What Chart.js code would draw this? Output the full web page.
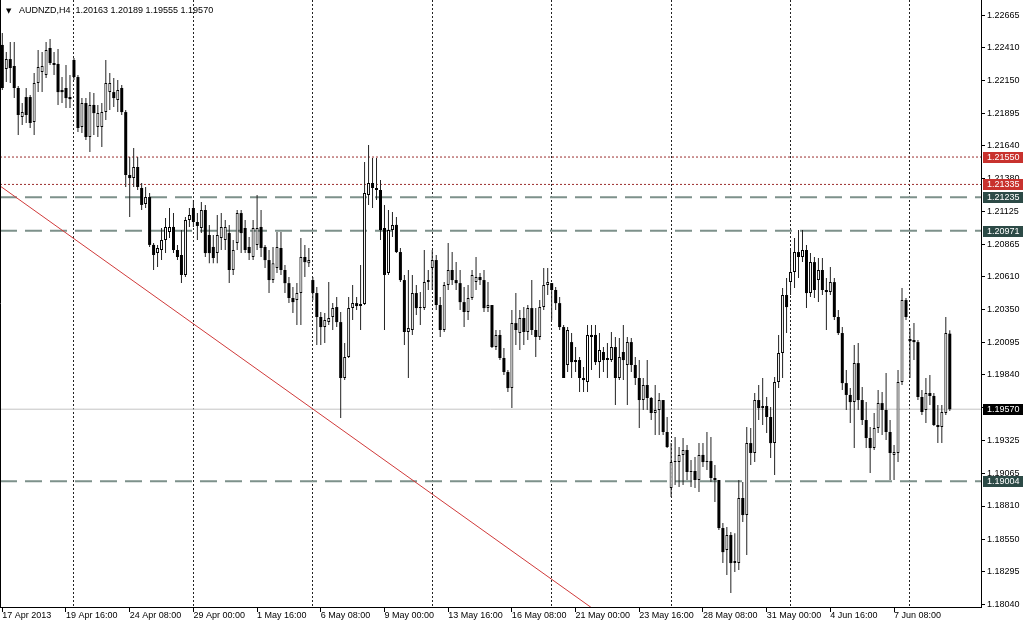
<!DOCTYPE html>
<html>
<head>
<meta charset="utf-8">
<title>AUDNZD,H4</title>
<script src="https://cdn.jsdelivr.net/npm/chart.js@4.4.1/dist/chart.umd.min.js"></script>
<style>
html,body{margin:0;padding:0;background:#ffffff;overflow:hidden;}
#wrap{position:relative;width:1024px;height:624px;background:#fff;}
canvas{display:block;}
</style>
</head>
<body>
<div id="wrap"><canvas id="chart" width="1024" height="624"></canvas></div>
<script>
const symbolName = 'AUDNZD,H4';

const opens = [
1.22430,1.22241,1.22319,1.22265,1.22092,1.21864,1.22021,1.22021,1.21825,1.22131,
1.22217,1.22194,1.22406,1.22288,1.22281,1.22076,1.22092,1.22021,1.22312,1.22178,
1.21786,1.21974,1.21707,1.21959,1.21786,1.21786,1.21903,1.22060,1.22060,1.21998,
1.22092,1.21903,1.21409,1.21385,1.21472,1.21307,1.21182,1.21236,1.20860,1.20796,
1.20820,1.20899,1.20961,1.21001,1.20820,1.20781,1.20624,1.21056,1.21150,1.21040,
1.20993,1.21134,1.20938,1.20844,1.20796,1.20914,1.20899,1.20953,1.20663,1.20875,
1.21110,1.20993,1.20844,1.20765,1.20860,1.21001,1.20844,1.20741,1.20584,1.20678,
1.20836,1.20663,1.20560,1.20443,1.20427,1.20482,1.20765,1.20717,1.20584,1.20482,
1.20294,1.20215,1.20254,1.20294,1.20372,1.20254,1.19815,1.19980,1.20364,1.20403,
1.20380,1.20396,1.21252,1.21346,1.21307,1.21291,1.20993,1.20639,1.20977,1.21017,
1.20804,1.20584,1.20176,1.20192,1.20482,1.20364,1.20364,1.20568,1.20678,1.20741,
1.20388,1.20192,1.20545,1.20663,1.20584,1.20560,1.20411,1.20333,1.20443,1.20568,
1.20608,1.20584,1.20364,1.20388,1.20058,1.20153,1.19972,1.19862,1.19736,1.20246,
1.20168,1.20286,1.20176,1.20364,1.20192,1.20137,1.20372,1.20545,1.20560,1.20506,
1.20403,1.20215,1.19917,1.20097,1.19940,1.19956,1.19815,1.19783,1.20153,1.20153,
1.19940,1.20019,1.19956,1.19956,1.20058,1.19815,1.20019,1.19917,1.20097,1.19917,
1.19815,1.19642,1.19760,1.19658,1.19540,1.19564,1.19642,1.19391,1.18951,1.19155,
1.19155,1.19211,1.19250,1.19077,1.19085,1.19014,1.19211,1.19155,1.19163,1.19030,
1.19014,1.18637,1.18464,1.18582,1.18362,1.18362,1.18873,1.18739,1.19304,1.19226,
1.19642,1.19579,1.19595,1.19509,1.19304,1.19783,1.20011,1.20467,1.20568,1.20647,
1.20804,1.20765,1.20820,1.20482,1.20725,1.20584,1.20663,1.20506,1.20490,1.20568,
1.20294,1.20168,1.19775,1.19682,1.19626,1.19932,1.19642,1.19485,1.19344,1.19265,
1.19422,1.19618,1.19564,1.19391,1.19211,1.19226,1.19783,1.20427,1.20121,1.20113,
1.20097,1.19666,1.19564,1.19697,1.19674,1.19446,1.19430,1.19540,1.20163];

const highs = [
1.22523,1.22374,1.22453,1.22453,1.22108,1.21974,1.22092,1.22037,1.22209,1.22390,
1.22374,1.22453,1.22476,1.22374,1.22398,1.22178,1.22273,1.22194,1.22327,1.22194,
1.22013,1.22013,1.22060,1.22052,1.21959,1.21974,1.22312,1.22209,1.22170,1.22155,
1.22116,1.21919,1.21550,1.21621,1.21550,1.21346,1.21315,1.21267,1.20875,1.20860,
1.20993,1.21071,1.21150,1.21110,1.20860,1.20977,1.21079,1.21150,1.21213,1.21110,
1.21197,1.21174,1.21017,1.20938,1.21095,1.21110,1.21056,1.21017,1.20899,1.21134,
1.21134,1.21056,1.20922,1.21056,1.21252,1.21134,1.20860,1.20820,1.20844,1.20961,
1.20961,1.20702,1.20608,1.20529,1.20560,1.20914,1.20860,1.20836,1.20608,1.20529,
1.20333,1.20325,1.20568,1.20403,1.20451,1.20333,1.20089,1.20451,1.20545,1.20451,
1.20702,1.21511,1.21645,1.21542,1.21542,1.21370,1.21174,1.21134,1.21118,1.21079,
1.20836,1.20624,1.20663,1.20624,1.20545,1.20490,1.20820,1.20663,1.20820,1.20781,
1.20451,1.20568,1.20875,1.20804,1.20725,1.20663,1.20529,1.20545,1.20663,1.20765,
1.20639,1.20663,1.20568,1.20388,1.20192,1.20192,1.20050,1.19878,1.20349,1.20482,
1.20349,1.20372,1.20388,1.20584,1.20364,1.20427,1.20678,1.20678,1.20560,1.20529,
1.20451,1.20231,1.20215,1.20168,1.20058,1.19980,1.19901,1.20231,1.20231,1.20231,
1.20168,1.20058,1.20089,1.20176,1.20137,1.20129,1.20231,1.20137,1.20129,1.19980,
1.19956,1.19815,1.19956,1.19666,1.19760,1.19697,1.19642,1.19509,1.19304,1.19352,
1.19273,1.19344,1.19289,1.19171,1.19195,1.19304,1.19304,1.19391,1.19352,1.19132,
1.19014,1.18676,1.18645,1.18605,1.18597,1.19014,1.18998,1.19430,1.19422,1.19697,
1.19760,1.19815,1.19666,1.19587,1.19823,1.20153,1.20521,1.20600,1.20820,1.20914,
1.20977,1.20977,1.20860,1.20796,1.20765,1.20757,1.20757,1.20600,1.20686,1.20600,
1.20349,1.20215,1.19878,1.19736,1.20074,1.20089,1.19744,1.19626,1.19430,1.19540,
1.19721,1.19705,1.19854,1.19485,1.19289,1.19878,1.20521,1.20443,1.20207,1.20246,
1.20113,1.19721,1.19815,1.19839,1.19697,1.19603,1.19603,1.20294,1.20189];

const lows = [
1.22076,1.22139,1.22131,1.22013,1.21723,1.21802,1.21817,1.21778,1.21723,1.22060,
1.22060,1.22170,1.22273,1.22194,1.21959,1.21974,1.21935,1.21935,1.22155,1.21746,
1.21738,1.21684,1.21589,1.21723,1.21707,1.21629,1.21841,1.21919,1.21943,1.21903,
1.21880,1.21315,1.21079,1.21315,1.21291,1.21134,1.21150,1.20844,1.20663,1.20686,
1.20741,1.20796,1.20914,1.20796,1.20741,1.20560,1.20608,1.21001,1.21001,1.20899,
1.20953,1.20765,1.20717,1.20717,1.20717,1.20820,1.20820,1.20560,1.20624,1.20820,
1.20796,1.20796,1.20741,1.20741,1.20820,1.20765,1.20678,1.20482,1.20560,1.20639,
1.20624,1.20482,1.20403,1.20325,1.20231,1.20231,1.20608,1.20686,1.20427,1.20074,
1.20074,1.20089,1.20231,1.20192,1.20215,1.19501,1.19799,1.19972,1.20270,1.20349,
1.20192,1.20388,1.21174,1.21150,1.21213,1.20899,1.20192,1.20624,1.20922,1.20796,
1.20568,1.20074,1.19815,1.20153,1.20310,1.20231,1.20349,1.20506,1.20506,1.20349,
1.20137,1.20176,1.20506,1.20545,1.20506,1.20349,1.20215,1.20270,1.20427,1.20506,
1.20545,1.20333,1.20333,1.20050,1.20035,1.19956,1.19839,1.19705,1.19579,1.20074,
1.20035,1.20074,1.20113,1.20153,1.19980,1.20113,1.20349,1.20467,1.20270,1.20349,
1.20192,1.19862,1.19862,1.19815,1.19862,1.19705,1.19705,1.19705,1.19878,1.19917,
1.19815,1.19862,1.19815,1.19940,1.19603,1.19799,1.19799,1.19603,1.19862,1.19760,
1.19422,1.19564,1.19564,1.19485,1.19368,1.19368,1.19368,1.19265,1.18881,1.18975,
1.18959,1.18975,1.19014,1.18959,1.18951,1.18920,1.19116,1.19093,1.18998,1.18841,
1.18621,1.18362,1.18268,1.18126,1.18291,1.18307,1.18684,1.18425,1.19132,1.19155,
1.19485,1.19446,1.19383,1.19187,1.19054,1.19736,1.19815,1.20168,1.20467,1.20521,
1.20600,1.20725,1.20364,1.20451,1.20443,1.20411,1.20467,1.20192,1.20467,1.20270,
1.20153,1.19721,1.19564,1.19461,1.19265,1.19564,1.19446,1.19265,1.19069,1.19250,
1.19383,1.19368,1.19328,1.19014,1.19014,1.19155,1.19760,1.20270,1.19815,1.19956,
1.19642,1.19525,1.19461,1.19603,1.19438,1.19304,1.19304,1.19525,1.19555];

const closes = [
1.22092,1.22319,1.22249,1.22092,1.21880,1.21903,1.21880,1.21817,1.22131,1.22257,
1.22265,1.22390,1.22288,1.22273,1.22060,1.22060,1.22013,1.22005,1.22178,1.21778,
1.21974,1.21707,1.21959,1.21895,1.21895,1.21903,1.22131,1.22131,1.22013,1.22076,
1.21903,1.21409,1.21385,1.21472,1.21315,1.21174,1.21236,1.20860,1.20781,1.20836,
1.20899,1.21001,1.21001,1.20820,1.20765,1.20624,1.21056,1.21095,1.21040,1.21009,
1.21134,1.20796,1.20796,1.20757,1.20938,1.21001,1.21001,1.20663,1.20820,1.21110,
1.20953,1.20820,1.20796,1.20993,1.20993,1.20836,1.20741,1.20584,1.20717,1.20844,
1.20663,1.20560,1.20443,1.20411,1.20482,1.20765,1.20725,1.20741,1.20482,1.20294,
1.20215,1.20270,1.20286,1.20364,1.20254,1.19815,1.19980,1.20364,1.20403,1.20380,
1.20396,1.21267,1.21346,1.21307,1.21291,1.20977,1.20624,1.20977,1.21017,1.20804,
1.20584,1.20176,1.20207,1.20482,1.20364,1.20372,1.20568,1.20584,1.20741,1.20388,
1.20192,1.20545,1.20663,1.20584,1.20560,1.20411,1.20333,1.20443,1.20624,1.20608,
1.20584,1.20364,1.20388,1.20058,1.20153,1.19972,1.19862,1.19736,1.20246,1.20192,
1.20286,1.20176,1.20364,1.20192,1.20137,1.20372,1.20545,1.20568,1.20506,1.20403,
1.20215,1.19815,1.20192,1.19940,1.19956,1.19815,1.19799,1.20153,1.20137,1.19940,
1.20035,1.19956,1.19972,1.20058,1.19815,1.19980,1.19956,1.20097,1.19917,1.19815,
1.19642,1.19760,1.19658,1.19540,1.19564,1.19642,1.19391,1.19273,1.19155,1.19163,
1.19211,1.19250,1.19077,1.19085,1.19014,1.19211,1.19155,1.19163,1.19030,1.19014,
1.18637,1.18448,1.18582,1.18362,1.18378,1.18873,1.18739,1.19304,1.19226,1.19642,
1.19579,1.19595,1.19509,1.19304,1.19783,1.20011,1.20467,1.20372,1.20647,1.20804,
1.20765,1.20820,1.20482,1.20725,1.20506,1.20663,1.20506,1.20490,1.20568,1.20294,
1.20168,1.19775,1.19682,1.19626,1.19932,1.19642,1.19485,1.19344,1.19265,1.19422,
1.19618,1.19564,1.19391,1.19226,1.19234,1.19783,1.20427,1.20294,1.20105,1.20097,
1.19666,1.19548,1.19697,1.19674,1.19446,1.19430,1.19548,1.20168,1.19570];

const timeLabels = ['17 Apr 2013','19 Apr 16:00','24 Apr 08:00','29 Apr 00:00','1 May 16:00',
  '6 May 08:00','9 May 00:00','13 May 16:00','16 May 08:00','21 May 00:00','23 May 16:00',
  '28 May 08:00','31 May 00:00','4 Jun 16:00','7 Jun 08:00'];
const timeLabelBars = [0,16,32,48,64,80,96,112,128,144,160,176,192,208,224];
const weekStartBars = [18,48,78,108,138,168,198,228];

const priceTicks = [1.22665,1.22410,1.22150,1.21895,1.21640,1.21380,1.21125,1.20865,1.20610,
  1.20350,1.20095,1.19840,1.19580,1.19325,1.19065,1.18810,1.18550,1.18295,1.18040];

const resistanceLevels = [1.21550, 1.21335];
const supportLevels = [1.21235, 1.20971, 1.19004];
const trendlinePoints = [{x: -0.578, y: 1.21323}, {x: 160, y: 1.17744}];

const xView = [-0.578, 245.84];
const yView = [1.18017, 1.22783];

const FONT = '"Liberation Sans", Arial, sans-serif';

const bullish = closes.map((c, i) => c >= opens[i]);
const wickData = lows.map((l, i) => ({x: i, y: [l, highs[i]]}));
const bodyData = opens.map((o, i) => ({x: i, y: [Math.min(o, closes[i]), Math.max(o, closes[i])]}));
const hLine = v => [{x: xView[0], y: v}, {x: xView[1], y: v}];
const lastClose = closes[closes.length - 1];

const datasets = [];
resistanceLevels.forEach(v => datasets.push({type: 'line', data: hLine(v), borderColor: '#9b2d2d',
  borderWidth: 1, borderDash: [2, 2], pointRadius: 0, order: 5}));
supportLevels.forEach(v => datasets.push({type: 'line', data: hLine(v), borderColor: '#7d918b',
  borderWidth: 2, borderDash: [17, 8], pointRadius: 0, order: 5}));
datasets.push({type: 'line', data: hLine(lastClose), borderColor: '#c4c4c4', borderWidth: 1, pointRadius: 0, order: 6});
datasets.push({type: 'line', data: trendlinePoints, borderColor: '#d03a3a', borderWidth: 1, pointRadius: 0, order: 4});
datasets.push({type: 'bar', data: wickData, backgroundColor: '#222222', borderWidth: 0, grouped: false,
  maxBarThickness: 1, categoryPercentage: 1, barPercentage: 1, inflateAmount: 0, order: 2});
datasets.push({type: 'bar', data: bodyData, backgroundColor: bullish.map(b => b ? '#ffffff' : '#000000'),
  borderColor: '#000000', borderWidth: bullish.map(b => b ? 1 : 0), borderSkipped: false, grouped: false,
  maxBarThickness: 3, minBarLength: 1, categoryPercentage: 1, barPercentage: 1, inflateAmount: 0, order: 1});

const overlayPlugin = {
  id: 'overlay',
  afterDraw(chart) {
    const {ctx, chartArea: a, scales} = chart;
    const ys = scales.y;
    ctx.save();
    ctx.setLineDash([]);
    ctx.strokeStyle = '#000';
    ctx.lineWidth = 1;
    ctx.beginPath();
    ctx.moveTo(a.left + 0.5, a.top);
    ctx.lineTo(a.left + 0.5, a.bottom);
    ctx.stroke();

    ctx.font = '9px ' + FONT;
    ctx.textAlign = 'left';
    ctx.textBaseline = 'middle';
    const tags = [];
    resistanceLevels.forEach(v => tags.push([v, '#c8322e']));
    supportLevels.forEach(v => tags.push([v, '#2c4a46']));
    tags.push([lastClose, '#000000']);
    tags.forEach(([v, col]) => {
      const py = Math.round(ys.getPixelForValue(v));
      ctx.fillStyle = col;
      ctx.fillRect(a.right + 2, py - 5, chart.width - a.right - 3, 11);
      ctx.fillStyle = '#ffffff';
      ctx.fillText(v.toFixed(5), a.right + 6, py + 0.5);
    });

    const n = closes.length - 1;
    ctx.fillStyle = '#000';
    ctx.font = '7px "DejaVu Sans", sans-serif';
    ctx.fillText('\u25BC', 6, 11);
    ctx.font = '9px ' + FONT;
    ctx.fillText(symbolName + '  ' + [opens[n], highs[n], lows[n], closes[n]].map(v => v.toFixed(5)).join(' '), 19, 11);
    ctx.restore();
  }
};

new Chart(document.getElementById('chart'), {
  type: 'bar',
  data: {datasets},
  plugins: [overlayPlugin],
  options: {
    responsive: false,
    animation: false,
    devicePixelRatio: 1,
    events: [],
    layout: {padding: 0},
    plugins: {legend: {display: false}, tooltip: {enabled: false}, title: {display: false}},
    scales: {
      x: {
        type: 'linear', min: xView[0], max: xView[1], offset: false, position: 'bottom',
        afterBuildTicks: s => { s.ticks = timeLabelBars.map(v => ({value: v})); },
        afterFit: s => { s.height = 17; s.paddingLeft = 0; s.paddingRight = 0; },
        ticks: {autoSkip: false, maxRotation: 0, minRotation: 0, align: 'start', padding: -2,
          color: '#000', font: {family: FONT, size: 9},
          callback: v => timeLabels[timeLabelBars.indexOf(v)]},
        grid: {offset: false, drawOnChartArea: false, drawTicks: true, tickLength: 5, tickColor: '#000', color: '#000'},
        border: {display: true, color: '#000', width: 1}
      },
      xg: {
        type: 'linear', min: xView[0], max: xView[1], offset: false, position: 'bottom',
        afterBuildTicks: s => { s.ticks = weekStartBars.map(v => ({value: v})); },
        afterFit: s => { s.height = 0; s.paddingLeft = 0; s.paddingRight = 0; },
        ticks: {display: false},
        grid: {offset: false, drawOnChartArea: true, drawTicks: false, color: '#222', lineWidth: 1},
        border: {display: false, dash: [2, 2]}
      },
      y: {
        type: 'linear', position: 'right', min: yView[0], max: yView[1], beginAtZero: false,
        afterBuildTicks: s => { s.ticks = priceTicks.map(v => ({value: v})); },
        afterFit: s => { s.width = 43; s.paddingTop = 0; s.paddingBottom = 0; },
        ticks: {autoSkip: false, padding: 2, color: '#000', font: {family: FONT, size: 9},
          callback: v => Number(v).toFixed(5)},
        grid: {drawOnChartArea: false, drawTicks: true, tickLength: 4, tickColor: '#000', color: '#000'},
        border: {display: true, color: '#000', width: 1}
      }
    }
  }
});
</script>
</body>
</html>
